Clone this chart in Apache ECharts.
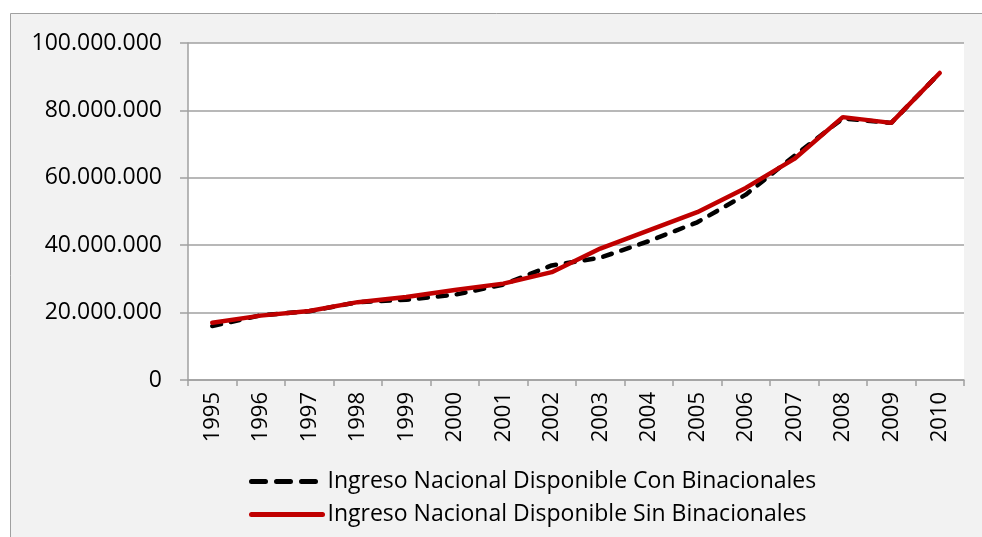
<!DOCTYPE html>
<html>
<head>
<meta charset="utf-8">
<script src="https://cdn.jsdelivr.net/npm/echarts@6/dist/echarts.min.js"></script>
<style>
  html, body { margin: 0; padding: 0; background: #ffffff; }
  #main { width: 982px; height: 537px; }
</style>
</head>
<body>
<div id="main"></div>
<script>
// years on the x axis
var years = ['1995','1996','1997','1998','1999','2000','2001','2002','2003','2004','2005','2006','2007','2008','2009','2010'];
// Ingreso Nacional Disponible Con Binacionales
var conBinacionales = [16000000, 19200000, 20400000, 23100000, 23800000, 25300000, 28300000, 34000000, 36300000, 41200000, 46800000, 55000000, 66500000, 77600000, 76300000, 91100000];
// Ingreso Nacional Disponible Sin Binacionales
var sinBinacionales = [17000000, 19100000, 20500000, 23100000, 24600000, 26700000, 28600000, 32000000, 39000000, 44400000, 49800000, 57000000, 65600000, 78000000, 76300000, 91100000];
var yTicks = [0, 20000000, 40000000, 60000000, 80000000, 100000000];

var nameCon = 'Ingreso Nacional Disponible Con Binacionales';
var nameSin = 'Ingreso Nacional Disponible Sin Binacionales';

var chartDom = document.getElementById('main');
var myChart = echarts.init(chartDom, null, { renderer: 'canvas' });

function fmt(v) {
  // thousands with dots
  return String(v).replace(/\B(?=(\d{3})+(?!\d))/g, '.');
}

var option = {
  backgroundColor: '#ffffff',
  animation: false,
  textStyle: { fontFamily: 'Open Sans' },
  graphic: [{
    type: 'rect',
    z: -10,
    shape: { x: 10.5, y: 13.5, width: 1000, height: 540 },
    style: { fill: '#f2f2f2', stroke: '#a0a0a0', lineWidth: 1 }
  }],
  grid: {
    left: 188,
    top: 43,
    right: 18,
    bottom: 157,
    show: true,
    backgroundColor: '#ffffff',
    borderWidth: 0
  },
  legend: {
    orient: 'vertical',
    left: 249,
    top: 470,
    padding: 0,
    itemWidth: 71,
    itemHeight: 12,
    itemGap: 10,
    itemStyle: { opacity: 0 },
    textStyle: { fontSize: 23, color: '#000', fontFamily: 'Open Sans' },
    data: [
      { name: nameCon, lineStyle: { color: '#000', width: 5, type: [14, 11], cap: 'round' } },
      { name: nameSin, lineStyle: { color: '#c00000', width: 5, cap: 'round' } }
    ]
  },
  xAxis: {
    type: 'category',
    data: years,
    boundaryGap: true,
    axisLine: { lineStyle: { color: '#a0a0a0', width: 1.5 } },
    axisTick: { show: true, length: 6, interval: 0, lineStyle: { color: '#a0a0a0', width: 1.5 } },
    axisLabel: { rotate: 90, interval: 0, fontSize: 22, color: '#000', margin: 12 }
  },
  yAxis: {
    type: 'value',
    min: 0,
    max: 100000000,
    interval: 20000000,
    axisLine: { show: true, lineStyle: { color: '#a0a0a0', width: 1.5 } },
    axisTick: { show: true, length: 8, lineStyle: { color: '#a0a0a0', width: 1.5 } },
    splitLine: { lineStyle: { color: '#a0a0a0', width: 1.5 } },
    axisLabel: {
      fontSize: 23,
      color: '#000',
      margin: 26,
      formatter: function (v) { return yTicks.indexOf(v) >= 0 ? fmt(v) : ''; }
    }
  },
  series: [
    {
      name: nameCon,
      type: 'line',
      data: conBinacionales,
      symbol: 'none',
      itemStyle: { color: '#000000' },
      lineStyle: { color: '#000000', width: 4.5, type: [9, 10], cap: 'round' },
      z: 2
    },
    {
      name: nameSin,
      type: 'line',
      data: sinBinacionales,
      symbol: 'none',
      itemStyle: { color: '#c00000' },
      lineStyle: { color: '#c00000', width: 4.5, cap: 'round' },
      z: 3
    }
  ]
};

myChart.setOption(option);
window.addEventListener('resize', myChart.resize);
</script>
</body>
</html>
